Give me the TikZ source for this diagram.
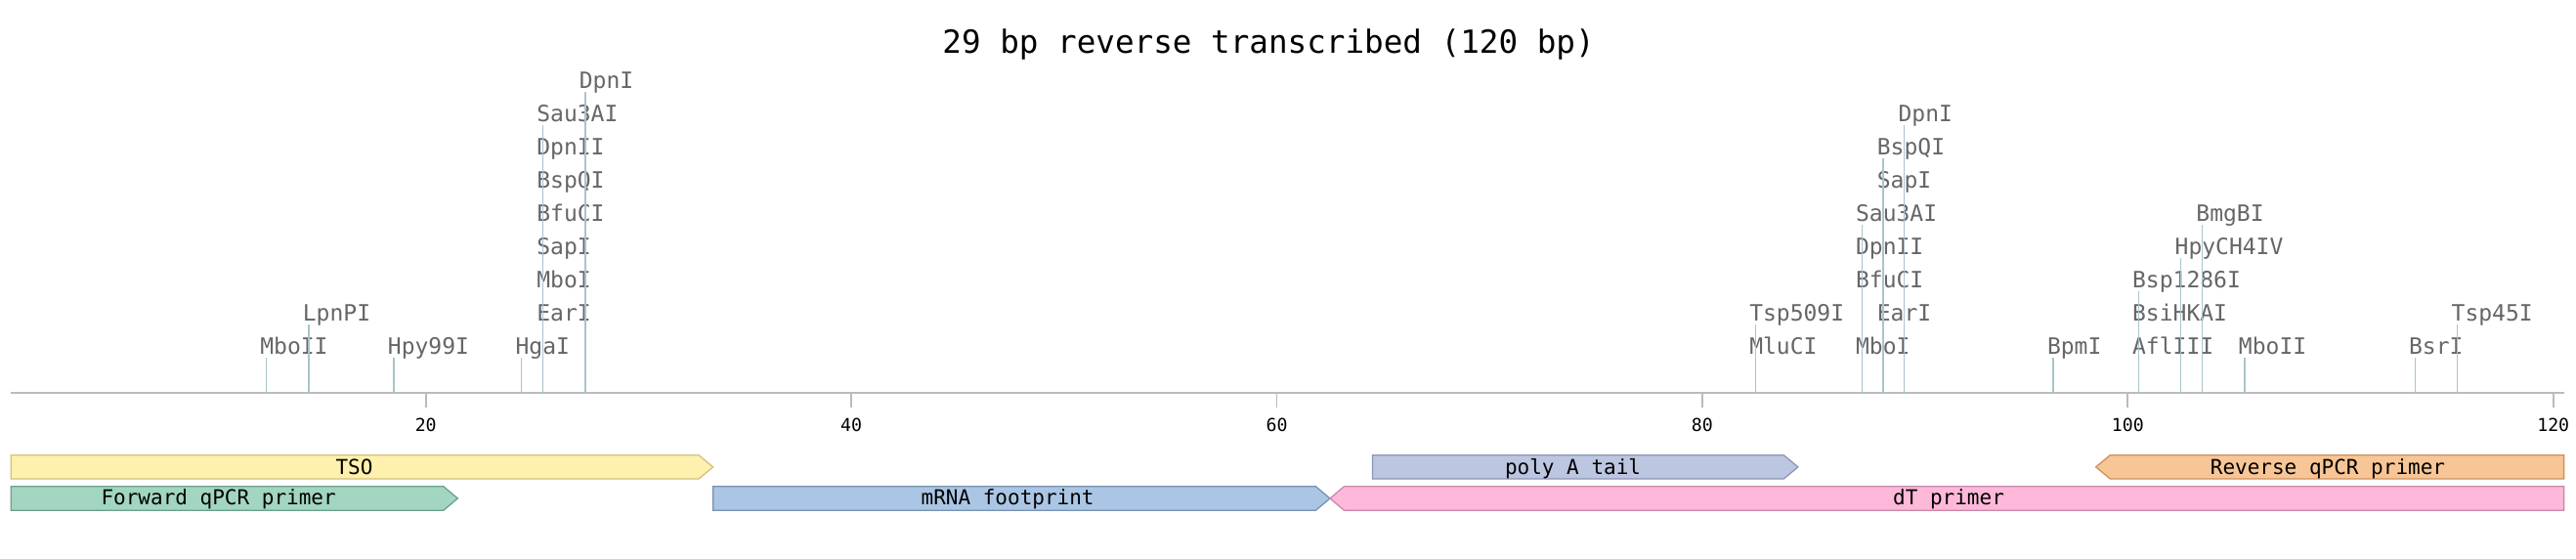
\documentclass[tikz,border=0pt]{standalone}
\usepackage{fontspec}
\newfontfamily\dnafont{DejaVu Sans Mono}
\definecolor{sitetext}{HTML}{666666}
\definecolor{siteline}{HTML}{A9C4CC}
\definecolor{axisgray}{HTML}{BBBBBB}
\definecolor{tsofill}{HTML}{FFF1AD}\definecolor{tsoline}{HTML}{D2C17E}
\definecolor{fwdfill}{HTML}{A2D6C0}\definecolor{fwdline}{HTML}{6FA08C}
\definecolor{mrnafill}{HTML}{AAC6E4}\definecolor{mrnaline}{HTML}{7A92B0}
\definecolor{polyfill}{HTML}{BDC6E0}\definecolor{polyline}{HTML}{8C96B4}
\definecolor{dtfill}{HTML}{FEB9DA}\definecolor{dtline}{HTML}{C98AA8}
\definecolor{revfill}{HTML}{F8C696}\definecolor{revline}{HTML}{CD925F}
\tikzset{
  site/.style={anchor=base west, xshift=-3.25pt, inner sep=0pt, text=sitetext, font=\dnafont\fontsize{11.5}{12}\selectfont},
  siteln/.style={draw=siteline, line width=0.65pt, shorten >=2pt},
  axisln/.style={draw=axisgray, line width=0.85pt},
  featbox/.style={line width=0.65pt, line join=miter},
  featlab/.style={anchor=base, inner sep=0pt, font=\dnafont\fontsize{10.5}{12}\selectfont},
  ticklab/.style={anchor=base, inner sep=0pt, font=\dnafont\fontsize{9.1}{10}\selectfont},
}
\begin{document}
\begin{tikzpicture}[x=10.885pt, y=-0.5pt]
  \useasboundingbox (-0.014,0) rectangle (121.07,572);
  \node[anchor=base, inner sep=0pt, font=\dnafont\fontsize{16.3}{18}\selectfont] (title) at (59.61,55) {29 bp reverse transcribed (120 bp)};
  % axis and ticks
  \draw[axisln] (0.5,401.7) -- (120.5,401.7);
  \draw[axisln] (20,401.7) -- (20,417.3);   \node[ticklab] (t20) at (20,441.7) {20};
  \draw[axisln] (40,401.7) -- (40,417.3);   \node[ticklab] (t40) at (40,441.7) {40};
  \draw[axisln] (60,401.7) -- (60,417.3);   \node[ticklab] (t60) at (60,441.7) {60};
  \draw[axisln] (80,401.7) -- (80,417.3);   \node[ticklab] (t80) at (80,441.7) {80};
  \draw[axisln] (100,401.7) -- (100,417.3); \node[ticklab] (t100) at (100,441.7) {100};
  \draw[axisln] (120,401.7) -- (120,417.3); \node[ticklab] (t120) at (120,441.7) {120};
  % enzyme sites, left group
  \coordinate (s125) at (12.5,401.7); \coordinate (s145) at (14.5,401.7); \coordinate (s185) at (18.5,401.7);
  \coordinate (s245) at (24.5,401.7); \coordinate (s255) at (25.5,401.7); \coordinate (s275) at (27.5,401.7);
  \node[site] (mboIIa) at (12.5,362) {MboII};
  \node[site] (lpnPI) at (14.5,328.05) {LpnPI};
  \node[site] (hpy99I) at (18.5,362) {Hpy99I};
  \node[site] (hgaI) at (24.5,362) {HgaI};
  \node[site] (earIa) at (25.5,328.05) {EarI};
  \node[site] (mboIa) at (25.5,294.1) {MboI};
  \node[site] (sapIa) at (25.5,260.15) {SapI};
  \node[site] (bfuCIa) at (25.5,226.2) {BfuCI};
  \node[site] (bspQIa) at (25.5,192.25) {BspQI};
  \node[site] (dpnIIa) at (25.5,158.3) {DpnII};
  \node[site] (sau3AIa) at (25.5,124.35) {Sau3AI};
  \node[site] (dpnIa) at (27.5,90.4) {DpnI};
  \draw[siteln] (s125) -- (s125 |- mboIIa.base);
  \draw[siteln] (s145) -- (s145 |- lpnPI.base);
  \draw[siteln] (s185) -- (s185 |- hpy99I.base);
  \draw[siteln] (s245) -- (s245 |- hgaI.base);
  \draw[siteln] (s255) -- (s255 |- sau3AIa.base);
  \draw[siteln] (s275) -- (s275 |- dpnIa.base);
  % enzyme sites, right group
  \coordinate (s825) at (82.5,401.7); \coordinate (s875) at (87.5,401.7); \coordinate (s885) at (88.5,401.7);
  \coordinate (s895) at (89.5,401.7); \coordinate (s965) at (96.5,401.7); \coordinate (s1005) at (100.5,401.7);
  \coordinate (s1025) at (102.5,401.7); \coordinate (s1035) at (103.5,401.7); \coordinate (s1055) at (105.5,401.7);
  \coordinate (s1135) at (113.5,401.7); \coordinate (s1155) at (115.5,401.7);
  \node[site] (mluCI) at (82.5,362) {MluCI};
  \node[site] (tsp509I) at (82.5,328.05) {Tsp509I};
  \node[site] (mboIb) at (87.5,362) {MboI};
  \node[site] (bfuCIb) at (87.5,294.1) {BfuCI};
  \node[site] (dpnIIb) at (87.5,260.15) {DpnII};
  \node[site] (sau3AIb) at (87.5,226.2) {Sau3AI};
  \node[site] (earIb) at (88.5,328.05) {EarI};
  \node[site] (sapIb) at (88.5,192.25) {SapI};
  \node[site] (bspQIb) at (88.5,158.3) {BspQI};
  \node[site] (dpnIb) at (89.5,124.35) {DpnI};
  \node[site] (bpmI) at (96.5,362) {BpmI};
  \node[site] (aflIII) at (100.5,362) {AflIII};
  \node[site] (bsiHKAI) at (100.5,328.05) {BsiHKAI};
  \node[site] (bsp1286I) at (100.5,294.1) {Bsp1286I};
  \node[site] (hpyCH4IV) at (102.5,260.15) {HpyCH4IV};
  \node[site] (bmgBI) at (103.5,226.2) {BmgBI};
  \node[site] (mboIIb) at (105.5,362) {MboII};
  \node[site] (bsrI) at (113.5,362) {BsrI};
  \node[site] (tsp45I) at (115.5,328.05) {Tsp45I};
  \draw[siteln] (s825) -- (s825 |- tsp509I.base);
  \draw[siteln] (s875) -- (s875 |- sau3AIb.base);
  \draw[siteln] (s885) -- (s885 |- bspQIb.base);
  \draw[siteln] (s895) -- (s895 |- dpnIb.base);
  \draw[siteln] (s965) -- (s965 |- bpmI.base);
  \draw[siteln] (s1005) -- (s1005 |- bsp1286I.base);
  \draw[siteln] (s1025) -- (s1025 |- hpyCH4IV.base);
  \draw[siteln] (s1035) -- (s1035 |- bmgBI.base);
  \draw[siteln] (s1055) -- (s1055 |- mboIIb.base);
  \draw[siteln] (s1135) -- (s1135 |- bsrI.base);
  \draw[siteln] (s1155) -- (s1155 |- tsp45I.base);
  % features
  \draw[featbox, draw=tsoline, fill=tsofill] (0.5,465.7) -- (32.83,465.7) -- (33.5,477.85) -- (32.83,490) -- (0.5,490) -- cycle;
  \node[featlab] (tso) at (16.64,485.7) {TSO};
  \draw[featbox, draw=fwdline, fill=fwdfill] (0.5,497.7) -- (20.83,497.7) -- (21.5,510) -- (20.83,522.3) -- (0.5,522.3) -- cycle;
  \node[featlab] (fwd) at (10.26,516.7) {Forward qPCR primer};
  \draw[featbox, draw=mrnaline, fill=mrnafill] (33.5,497.7) -- (61.83,497.7) -- (62.5,510) -- (61.83,522.3) -- (33.5,522.3) -- cycle;
  \node[featlab] (mrna) at (47.35,516.7) {mRNA footprint};
  \draw[featbox, draw=polyline, fill=polyfill] (64.5,465.7) -- (83.83,465.7) -- (84.5,477.85) -- (83.83,490) -- (64.5,490) -- cycle;
  \node[featlab] (polyA) at (73.92,485.7) {poly A tail};
  \draw[featbox, draw=dtline, fill=dtfill] (63.17,497.7) -- (120.5,497.7) -- (120.5,522.3) -- (63.17,522.3) -- (62.5,510) -- cycle;
  \node[featlab] (dT) at (91.58,516.7) {dT primer};
  \draw[featbox, draw=revline, fill=revfill] (99.17,465.7) -- (120.5,465.7) -- (120.5,490) -- (99.17,490) -- (98.5,477.85) -- cycle;
  \node[featlab] (rev) at (109.4,485.7) {Reverse qPCR primer};
\end{tikzpicture}
\end{document}
